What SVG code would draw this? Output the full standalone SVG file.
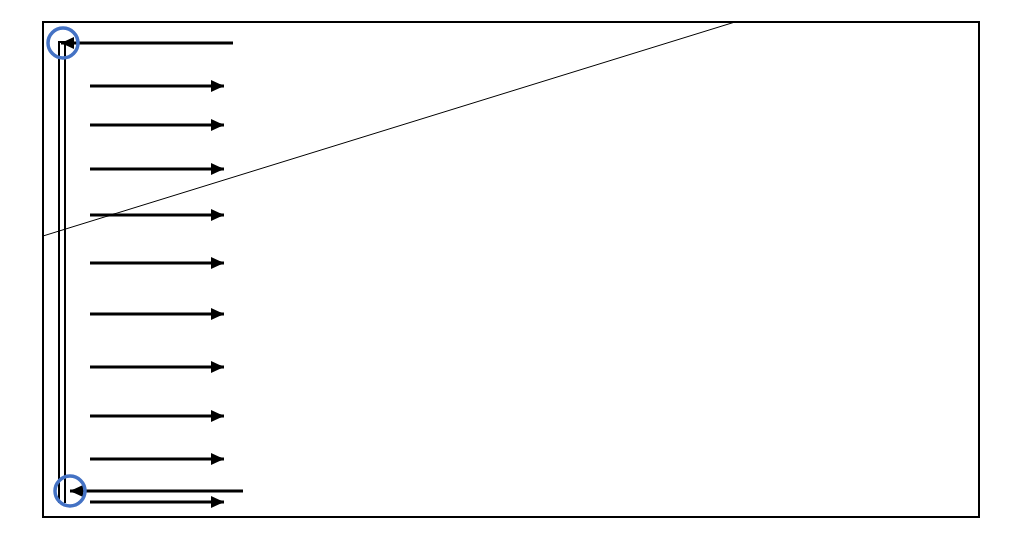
<svg xmlns="http://www.w3.org/2000/svg" width="1023" height="542" viewBox="0 0 1023 542">
<style>
.a{stroke:#000;stroke-width:3;fill:none}
.v{stroke:#000;stroke-width:2;fill:none}
.c{stroke:#4472C4;stroke-width:3.5;fill:none}
</style>
<defs>
<marker id="ah" markerUnits="userSpaceOnUse" markerWidth="14" markerHeight="12" refX="13" refY="6" orient="auto">
<path d="M0,0 L13,6 L0,12 Z" fill="#000"/>
</marker>
</defs>
<rect x="43" y="22" width="936" height="495" fill="#fff" stroke="#000" stroke-width="2"/>
<g id="diagonal"><line x1="43" y1="236" x2="735" y2="22" stroke="#000" stroke-width="1"/></g>
<g id="rails">
<line class="v" x1="59" y1="42" x2="59" y2="503"/>
<line class="v" x1="65" y1="42" x2="65" y2="503"/>
<line class="v" x1="58" y1="42" x2="66" y2="42"/>
</g>
<g id="connectors">
<line class="a" x1="233" y1="43" x2="61" y2="43" marker-end="url(#ah)"/>
<line class="a" x1="243" y1="491" x2="70" y2="491" marker-end="url(#ah)"/>
<line class="a" x1="90" y1="86" x2="224" y2="86" marker-end="url(#ah)"/>
<line class="a" x1="90" y1="125" x2="224" y2="125" marker-end="url(#ah)"/>
<line class="a" x1="90" y1="169" x2="224" y2="169" marker-end="url(#ah)"/>
<line class="a" x1="90" y1="215" x2="224" y2="215" marker-end="url(#ah)"/>
<line class="a" x1="90" y1="263" x2="224" y2="263" marker-end="url(#ah)"/>
<line class="a" x1="90" y1="314" x2="224" y2="314" marker-end="url(#ah)"/>
<line class="a" x1="90" y1="367" x2="224" y2="367" marker-end="url(#ah)"/>
<line class="a" x1="90" y1="416" x2="224" y2="416" marker-end="url(#ah)"/>
<line class="a" x1="90" y1="459" x2="224" y2="459" marker-end="url(#ah)"/>
<line class="a" x1="90" y1="502" x2="224" y2="502" marker-end="url(#ah)"/>
</g>
<g id="circle-top"><circle class="c" cx="63" cy="43" r="15"/></g>
<g id="circle-bottom"><circle class="c" cx="70" cy="491" r="15"/></g>
</svg>
